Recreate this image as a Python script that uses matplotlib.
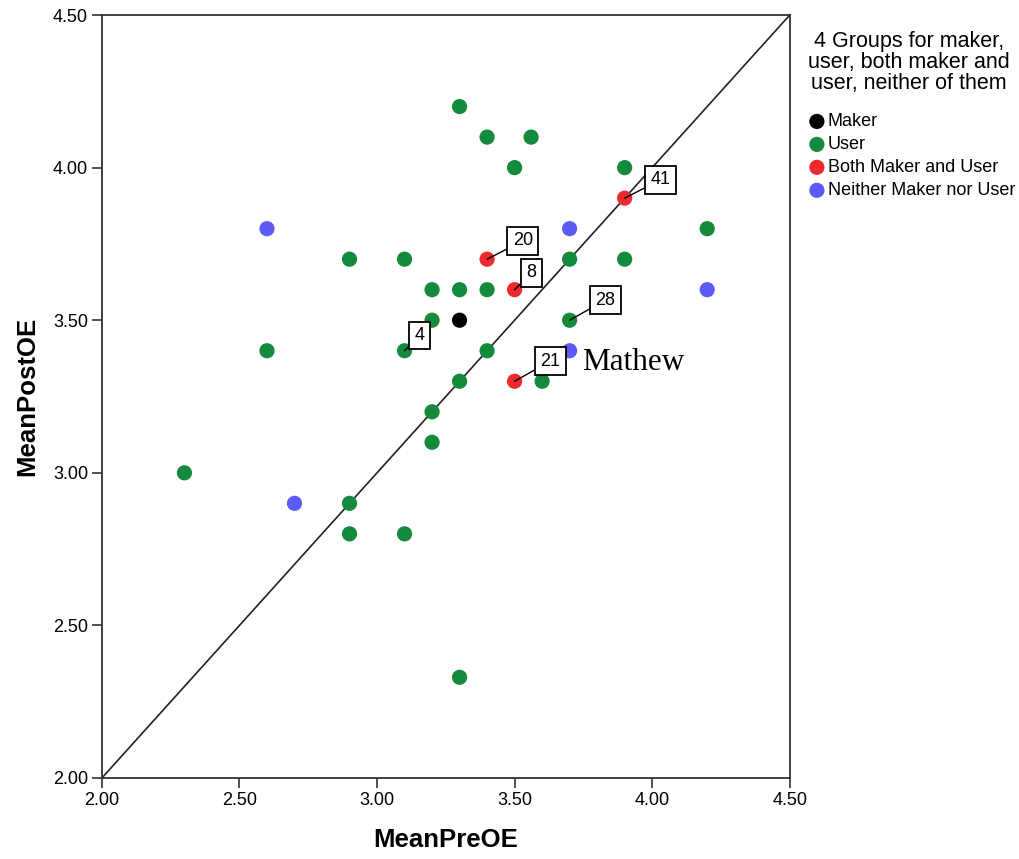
import matplotlib
matplotlib.use("Agg")
import matplotlib.pyplot as plt

# MeanPreOE / MeanPostOE by group
maker_pre = [3.30]
maker_post = [3.50]

user_pre = [3.30, 3.40, 3.56, 3.50, 3.90, 4.20, 2.90, 3.10, 3.70, 3.90,
            3.20, 3.30, 3.40, 3.20, 3.70, 2.60, 3.10, 3.40, 3.30, 3.60,
            3.20, 3.20, 2.30, 2.90, 2.90, 3.10, 3.30]
user_post = [4.20, 4.10, 4.10, 4.00, 4.00, 3.80, 3.70, 3.70, 3.70, 3.70,
             3.60, 3.60, 3.60, 3.50, 3.50, 3.40, 3.40, 3.40, 3.30, 3.30,
             3.20, 3.10, 3.00, 2.90, 2.80, 2.80, 2.33]

both_pre = [3.90, 3.40, 3.50, 3.50]
both_post = [3.90, 3.70, 3.60, 3.30]

neither_pre = [2.60, 3.70, 4.20, 3.70, 2.70]
neither_post = [3.80, 3.80, 3.60, 3.40, 2.90]

# case labels: (id, x, y) and where the label box sits
case_ids = ["41", "20", "8", "28", "4", "21"]
case_x = [3.90, 3.40, 3.50, 3.70, 3.10, 3.50]
case_y = [3.90, 3.70, 3.60, 3.50, 3.40, 3.30]
case_dx = [0.13, 0.13, 0.06, 0.13, 0.055, 0.13]
case_dy = [0.06, 0.06, 0.055, 0.066, 0.05, 0.066]

ticks = [2.00, 2.50, 3.00, 3.50, 4.00, 4.50]

SANS = ["Liberation Sans Narrow", "Liberation Sans", "DejaVu Sans"]

fig = plt.figure(figsize=(10.19, 8.59), dpi=100)
ax = fig.add_axes([0.100, 0.0943, 0.675, 0.8882])

groups = [
    (maker_pre, maker_post, "#000000", "Maker"),
    (user_pre, user_post, "#138a3c", "User"),
    (both_pre, both_post, "#ec2a2e", "Both Maker and User"),
    (neither_pre, neither_post, "#5c5cf5", "Neither Maker nor User"),
]
for xs, ys, c, lab in groups:
    ax.scatter(xs, ys, s=120, color=c, edgecolors="none", label=lab, zorder=3)

# y = x reference line
ax.plot([2.0, 4.5], [2.0, 4.5], color="#222222", lw=1.2, zorder=2)

for cid, x, y, dx, dy in zip(case_ids, case_x, case_y, case_dx, case_dy):
    ax.annotate(cid, xy=(x, y), xytext=(x + dx, y + dy),
                fontsize=13, family=SANS, ha="center", va="center",
                bbox=dict(boxstyle="square,pad=0.3", fc="white", ec="black", lw=1.3),
                arrowprops=dict(arrowstyle="-", color="black", lw=1.0,
                                shrinkA=0, shrinkB=0),
                zorder=5)

ax.text(3.745, 3.36, "Mathew", fontsize=22.5, family="Liberation Serif",
        ha="left", va="center", zorder=6)

ax.set_xlim(2.0, 4.5)
ax.set_ylim(2.0, 4.5)
ax.set_xticks(ticks)
ax.set_yticks(ticks)
ax.set_xticklabels([f"{t:.2f}" for t in ticks], family=SANS, fontsize=13)
ax.set_yticklabels([f"{t:.2f}" for t in ticks], family=SANS, fontsize=13)
ax.tick_params(direction="out", length=7, width=1.2, color="#333333", pad=3)
for sp in ax.spines.values():
    sp.set_linewidth(1.3)
    sp.set_color("#333333")

ax.set_xlabel("MeanPreOE", fontsize=18.5, fontweight="bold", family=SANS, labelpad=14)
ax.set_ylabel("MeanPostOE", fontsize=18.5, fontweight="bold", family=SANS, labelpad=10)

leg = ax.legend(loc="upper left", bbox_to_anchor=(1.008, 0.996), frameon=False,
                title="4 Groups for maker,\nuser, both maker and\nuser, neither of them",
                prop={"family": SANS, "size": 13}, handletextpad=0.1,
                handlelength=1.0, borderaxespad=0.3, labelspacing=0.33,
                markerscale=1.0)
leg.get_title().set_fontsize(15.5)
leg.get_title().set_family(SANS)
leg.get_title().set_multialignment("center")
leg.get_title().set_linespacing(1.0)
leg._legend_box.align = "left"
leg._legend_box.sep = 14

fig.savefig("out.png", dpi=100)
